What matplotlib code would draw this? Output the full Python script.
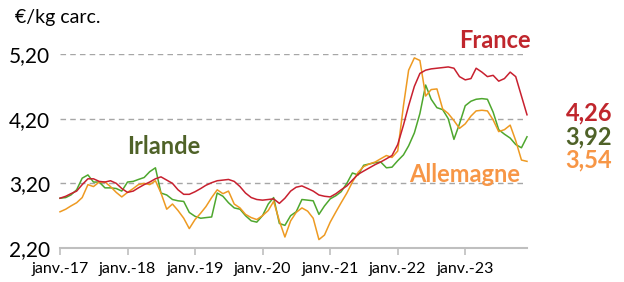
import numpy as np
import pandas as pd
import matplotlib
matplotlib.use("Agg")
import matplotlib.pyplot as plt

# monthly prices, €/kg carcass, janv. 2017 -> déc. 2023
months = pd.date_range("2017-01-01", periods=84, freq="MS")

france = [
    2.97, 3.00, 3.04, 3.08, 3.18, 3.27, 3.27, 3.23, 3.22, 3.24, 3.20, 3.12,
    3.06, 3.08, 3.13, 3.18, 3.22, 3.27, 3.30, 3.25, 3.20, 3.10, 3.03, 3.03,
    3.07, 3.12, 3.17, 3.21, 3.24, 3.25, 3.26, 3.23, 3.15, 3.05, 2.98, 2.95,
    2.94, 2.95, 2.96, 2.89, 2.97, 3.08, 3.14, 3.16, 3.12, 3.08, 3.02, 3.00,
    2.99, 3.04, 3.10, 3.16, 3.25, 3.34, 3.39, 3.44, 3.49, 3.53, 3.58, 3.63,
    3.80, 4.10, 4.40, 4.70, 4.90, 4.95, 4.97, 4.98, 4.99, 5.00, 4.98, 4.85,
    4.80, 4.82, 4.98, 4.92, 4.85, 4.87, 4.78, 4.82, 4.92, 4.85, 4.55, 4.26,
]

allemagne = [
    2.76, 2.80, 2.85, 2.90, 2.98, 3.18, 3.15, 3.22, 3.22, 3.15, 3.06, 2.99,
    3.06, 3.12, 3.18, 3.20, 3.18, 3.24, 3.05, 2.80, 2.88, 2.78, 2.66, 2.50,
    2.64, 2.74, 2.84, 2.98, 3.10, 3.04, 3.08, 2.88, 2.82, 2.72, 2.67, 2.64,
    2.70, 2.78, 2.92, 2.62, 2.37, 2.62, 2.75, 2.82, 2.77, 2.66, 2.33, 2.40,
    2.60, 2.76, 2.90, 3.05, 3.22, 3.37, 3.46, 3.50, 3.53, 3.58, 3.63, 3.60,
    3.70, 4.40, 4.95, 5.14, 5.10, 4.55, 4.65, 4.66, 4.35, 4.28, 4.17, 4.05,
    4.12, 4.24, 4.32, 4.33, 4.32, 4.18, 4.00, 4.03, 4.10, 3.86, 3.56, 3.54,
]

irlande = [
    2.97, 2.98, 3.02, 3.10, 3.28, 3.33, 3.22, 3.22, 3.13, 3.13, 3.12, 3.08,
    3.22, 3.23, 3.26, 3.29, 3.38, 3.44, 3.05, 3.02, 2.95, 2.93, 2.92, 2.75,
    2.69, 2.66, 2.67, 2.68, 3.05, 3.00, 2.90, 2.82, 2.80, 2.70, 2.62, 2.60,
    2.70, 2.88, 2.98, 2.58, 2.55, 2.70, 2.76, 2.95, 2.94, 2.93, 2.72, 2.85,
    2.96, 3.01, 3.07, 3.20, 3.36, 3.33, 3.48, 3.50, 3.52, 3.53, 3.44, 3.45,
    3.55, 3.64, 3.78, 3.98, 4.28, 4.72, 4.50, 4.37, 4.34, 4.20, 3.88, 4.12,
    4.40, 4.47, 4.50, 4.51, 4.50, 4.30, 4.03, 3.96, 3.90, 3.80, 3.75, 3.92,
]

yticks = [2.20, 3.20, 4.20, 5.20]
tick_years = [2017, 2018, 2019, 2020, 2021, 2022, 2023]

c_fr_line, c_fr_txt = "#c8202f", "#c0262d"
c_de_line, c_de_txt = "#ee9a22", "#f79646"
c_ie_line, c_ie_txt = "#4ea72e", "#4f6228"

plt.rcParams["font.family"] = ["Lato", "DejaVu Sans"]


def fmt(v):
    return f"{v:.2f}".replace(".", ",")


fig = plt.figure(figsize=(6.24, 2.82), dpi=100)
ax = fig.add_axes([60 / 624, 1 - 248 / 282, (527 - 60) / 624, (248 - 54) / 282])

ax.plot(months, irlande, color=c_ie_line, lw=1.1, clip_on=False, zorder=3)
ax.plot(months, allemagne, color=c_de_line, lw=1.1, clip_on=False, zorder=3)
ax.plot(months, france, color=c_fr_line, lw=1.1, clip_on=False, zorder=4)

ax.set_xlim(months[0], months[-1])
ax.set_ylim(2.20, 5.20)

for v in yticks[1:]:
    ax.axhline(v, color="#a6a6a6", lw=1.0, ls=(0, (4, 3)), zorder=1)

ax.set_yticks(yticks)
ax.set_yticklabels([fmt(v) for v in yticks], fontsize=15)
ax.tick_params(axis="y", length=0, pad=7)

xt = [pd.Timestamp(f"{y}-01-01") for y in tick_years]
ax.set_xticks(xt)
ax.set_xticklabels([f"janv.-{str(y)[2:]}" for y in tick_years], fontsize=11.5)
ax.tick_params(axis="x", length=5, width=1.2, color="#bfbfbf", pad=5)

for s in ["top", "right", "left"]:
    ax.spines[s].set_visible(False)
ax.spines["bottom"].set_color("#bfbfbf")
ax.spines["bottom"].set_linewidth(1.5)

fig.text(15 / 624, 1 - 17 / 282, "€/kg carc.", fontsize=14, va="center", ha="left")

fig.text(495 / 624, 1 - 41 / 282, "France", color=c_fr_txt, fontsize=17,
         fontweight="bold", ha="center", va="center")
fig.text(164 / 624, 1 - 147 / 282, "Irlande", color=c_ie_txt, fontsize=17,
         fontweight="bold", ha="center", va="center")
fig.text(465 / 624, 1 - 175 / 282, "Allemagne", color=c_de_txt, fontsize=17,
         fontweight="bold", ha="center", va="center")

for series, yy, col in [(france, 113, c_fr_txt), (irlande, 137, c_ie_txt),
                        (allemagne, 160, c_de_txt)]:
    fig.text(589 / 624, 1 - yy / 282, fmt(series[-1]), color=col, fontsize=17,
             fontweight="bold", ha="center", va="center")

fig.savefig("out.png", dpi=100)
